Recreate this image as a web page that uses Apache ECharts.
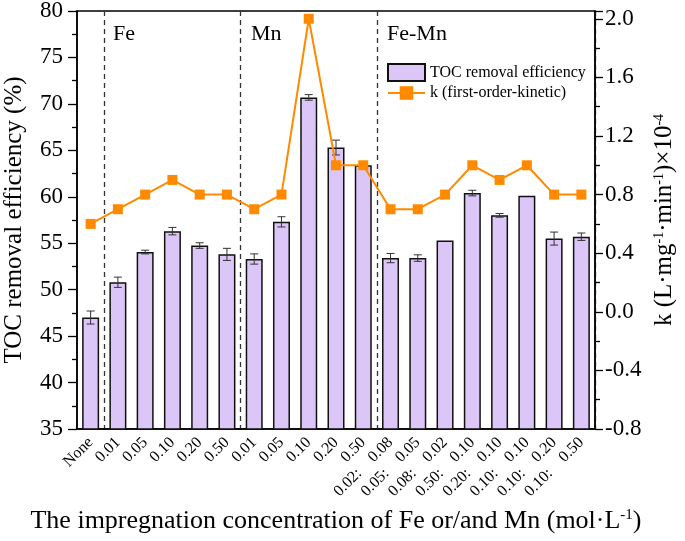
<!DOCTYPE html>
<html>
<head>
<meta charset="utf-8">
<script src="https://cdn.jsdelivr.net/npm/echarts@6/dist/echarts.min.js"></script>
<style>html,body{margin:0;padding:0;background:#fff}#c{width:685px;height:541px}</style>
</head>
<body>
<div id="c"></div>
<script>
var categories = ['None','0.01','0.05','0.10','0.20','0.50','0.01','0.05','0.10','0.20','0.50',
  '0.02:    0.08','0.05:    0.05','0.08:    0.02','0.50:    0.10','0.20:    0.10','0.10:    0.10','0.10:    0.20','0.10:    0.50'];
var tocValues = [47.0, 50.8, 54.05, 56.3, 54.75, 53.8, 53.3, 57.3, 70.7, 65.3, 63.4, 53.4, 53.4, 55.3, 60.4, 58.0, 60.1, 55.5, 55.7];
var tocErrors = [0.7, 0.55, 0.2, 0.4, 0.3, 0.65, 0.55, 0.55, 0.3, 0.8, 0.3, 0.5, 0.35, 0, 0.3, 0.2, 0, 0.7, 0.4];
var kValues = [0.6, 0.7, 0.8, 0.9, 0.8, 0.8, 0.7, 0.8, 2.0, 1.0, 1.0, 0.7, 0.7, 0.8, 1.0, 0.9, 1.0, 0.8, 0.8];
var groupLabels = ['Fe', 'Mn', 'Fe-Mn'];
var groupStarts = [1, 6, 11];

var FONT = '"Liberation Serif", "Times New Roman", serif';
var chart = echarts.init(document.getElementById('c'));
var errData = categories.map(function (c, i) { return [i, tocValues[i], tocErrors[i]]; });

chart.setOption({
  backgroundColor: '#fff',
  textStyle: { fontFamily: FONT, color: '#000' },
  grid: { left: 77, right: 90, top: 11, bottom: 112, show: true, borderColor: '#000', borderWidth: 1.5,
    backgroundColor: 'transparent', containLabel: false, outerBoundsMode: 'none' },
  legend: {
    data: [{ name: 'TOC removal efficiency', icon: 'rect' }, { name: 'k (first-order-kinetic)' }],
    orient: 'vertical', left: 382, top: 58, itemWidth: 37, itemHeight: 17, itemGap: 3,
    textStyle: { fontFamily: FONT, fontSize: 16, color: '#000' }
  },
  graphic: groupLabels.map(function (t, i) {
    return { type: 'text', left: [113, 251, 387][i], top: 23, style: { text: t, font: '22px ' + FONT, fill: '#000' } };
  }),
  xAxis: {
    type: 'category', data: categories,
    axisLine: { onZero: false, lineStyle: { color: '#000', width: 1.5 } },
    axisTick: { show: false },
    axisLabel: { rotate: 45, fontSize: 16, fontFamily: FONT, color: '#000', margin: 11, interval: 0 },
    splitLine: { show: true, interval: function (i) { return groupStarts.indexOf(i) >= 0; },
      lineStyle: { color: '#333', width: 1.3, type: [5, 4] } },
    name: 'The impregnation concentration of Fe or/and Mn (mol·L{s|-1})',
    nameLocation: 'middle', nameGap: 79,
    nameTextStyle: { fontSize: 26, fontFamily: FONT, color: '#000', rich: { s: { fontSize: 15, verticalAlign: 'top', fontFamily: FONT } } }
  },
  yAxis: [{
    type: 'value', min: 35, max: 80, interval: 5,
    axisLine: { show: true, lineStyle: { color: '#000', width: 1.5 } },
    axisTick: { show: true, length: 9, lineStyle: { color: '#000', width: 1.3 } },
    minorTick: { show: true, splitNumber: 2, length: 5, lineStyle: { color: '#000', width: 1.3 } },
    splitLine: { show: false },
    axisLabel: { fontSize: 23, fontFamily: FONT, color: '#000', margin: 14 },
    name: 'TOC removal efficiency (%)', nameLocation: 'middle', nameGap: 50, nameRotate: 90,
    nameTextStyle: { fontSize: 25, fontFamily: FONT, color: '#000' }
  }, {
    type: 'value', min: -0.8, max: 2.053, interval: 0.4, position: 'right',
    axisLine: { show: true, lineStyle: { color: '#000', width: 1.5 } },
    axisTick: { show: true, length: 8, lineStyle: { color: '#000', width: 1.3 } },
    minorTick: { show: true, splitNumber: 2, length: 5, lineStyle: { color: '#000', width: 1.3 } },
    splitLine: { show: false },
    axisLabel: { fontSize: 23, fontFamily: FONT, color: '#000', margin: 10, showMaxLabel: false,
      formatter: function (v) { return Math.abs(v - Math.round(v / 0.4) * 0.4) < 1e-6 ? v.toFixed(1) : ''; } },
    name: 'k (L·mg{s|-1}·min{s|-1})×10{s|-4}', nameLocation: 'middle', nameGap: 55, nameRotate: 90,
    nameTextStyle: { fontSize: 25, fontFamily: FONT, color: '#000', rich: { s: { fontSize: 14, verticalAlign: 'top', fontFamily: FONT } } }
  }],
  series: [{
    name: 'TOC removal efficiency', type: 'bar', data: tocValues, yAxisIndex: 0, barWidth: 17,
    itemStyle: { color: '#dcc6f8', borderColor: '#111', borderWidth: 1.5 }, z: 2
  }, {
    name: 'err', type: 'custom', yAxisIndex: 0, data: errData, encode: { x: 0, y: 1 }, z: 3,
    renderItem: function (params, api) {
      var x = api.value(0), v = api.value(1), e = api.value(2);
      if (!e) return null;
      var t = api.coord([x, v + e]), b = api.coord([x, v - e]), hw = 4;
      var st = { stroke: '#333', lineWidth: 1 };
      return { type: 'group', children: [
        { type: 'line', shape: { x1: t[0], y1: t[1], x2: b[0], y2: b[1] }, style: st },
        { type: 'line', shape: { x1: t[0] - hw, y1: t[1], x2: t[0] + hw, y2: t[1] }, style: st },
        { type: 'line', shape: { x1: b[0] - hw, y1: b[1], x2: b[0] + hw, y2: b[1] }, style: st }
      ] };
    }
  }, {
    name: 'k (first-order-kinetic)', type: 'line', data: kValues, yAxisIndex: 1,
    symbol: 'rect', symbolSize: 10, z: 4,
    lineStyle: { color: '#ff8a00', width: 2 }, itemStyle: { color: '#ff8a00' }
  }]
});
</script>
</body>
</html>
